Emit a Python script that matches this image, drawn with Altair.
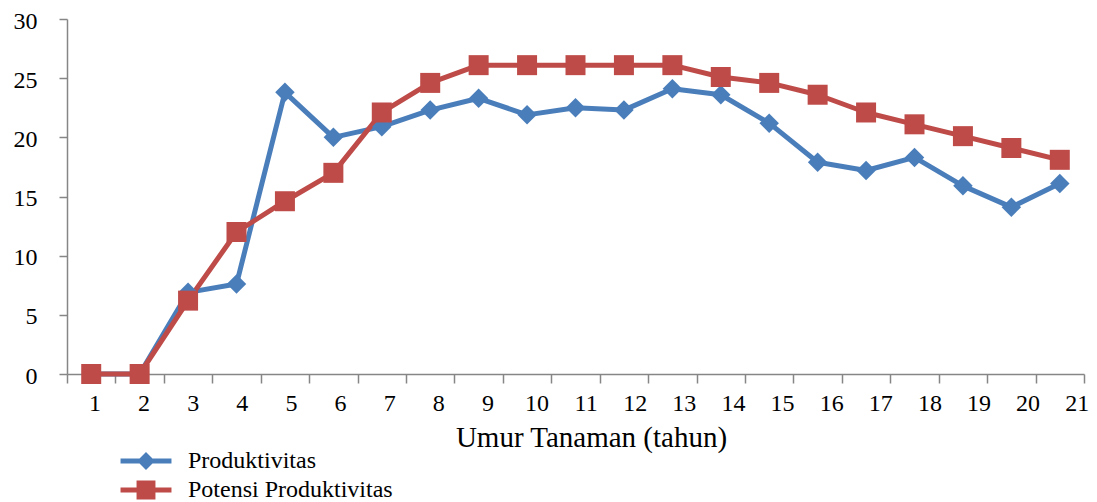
import altair as alt
import pandas as pd

# ---- data ----
years = list(range(1, 22))
year_labels = [str(y) for y in years]
produktivitas = [0, 0, 6.9, 7.6, 23.8, 20.0, 20.9, 22.3, 23.3, 21.9, 22.5, 22.3,
                 24.1, 23.6, 21.2, 17.9, 17.2, 18.3, 15.9, 14.1, 16.1]
potensi = [0, 0, 6.2, 12.0, 14.6, 17.0, 22.1, 24.6, 26.1, 26.1, 26.1, 26.1,
           26.1, 25.1, 24.6, 23.6, 22.1, 21.1, 20.1, 19.1, 18.1]
series_names = ["Produktivitas", "Potensi Produktivitas"]
series_colors = ["#4A7EBB", "#BE4B48"]
y_ticks = [0, 5, 10, 15, 20, 25, 30]
x_title = "Umur Tanaman (tahun)"

FONT = "Liberation Serif"
AXIS_COLOR = "#868686"

rows = []
for s, vals in zip(series_names, [produktivitas, potensi]):
    for t, v in zip(years, vals):
        rows.append({"tahun": t, "series": s, "nilai": v})
df = pd.DataFrame(rows)

# category labels (Excel-style drift across the axis)
n = len(year_labels)
lab_df = pd.DataFrame({
    "label": year_labels,
    "pos": [1.078 + i * (21.36 - 1.078) / (n - 1) for i in range(n)],
})

x_scale = alt.Scale(domain=[0.5, 21.5], nice=False, zero=False)
y_scale = alt.Scale(domain=[0, 30], nice=False)
color_scale = alt.Scale(domain=series_names, range=series_colors)

# legend symbols: a line segment with the series marker (unit r = 9 px)
diamond_line = ("M-2.83,-0.28H-0.72L0,-1L0.72,-0.28H2.83V0.28H0.72L0,1"
                "L-0.72,0.28H-2.83Z")
square_line = ("M-2.83,-0.28H-1.05V-1.05H1.05V-0.28H2.83V0.28H1.05V1.05H-1.05"
               "V0.28H-2.83Z")

x_axis = alt.Axis(
    values=[i + 0.5 for i in range(0, 22)], labels=False, grid=False,
    tickSize=9, tickColor=AXIS_COLOR, domainColor=AXIS_COLOR,
    tickWidth=1.5, domainWidth=1.5,
    title=x_title, titleFont=FONT, titleFontSize=29, titleFontWeight="normal",
    titleColor="black", titleX=524, titleY=72, titleAlign="center",
    titleBaseline="alphabetic",
)
y_axis = alt.Axis(
    values=y_ticks, grid=False, tickSize=8, tickColor=AXIS_COLOR,
    domainColor=AXIS_COLOR, tickWidth=1.5, domainWidth=1.5,
    labelFont=FONT, labelFontSize=24, labelColor="black", labelPadding=22,
    labelOffset=2, title=None,
)

legend_opts = dict(
    title=None, orient="none", legendX=67, legendY=430,
    symbolSize=324, symbolOpacity=1, symbolStrokeWidth=0,
    labelFont=FONT, labelFontSize=24, labelColor="black", labelLimit=400,
    labelOffset=30, rowPadding=5, padding=0, direction="vertical",
)

base = alt.Chart(df)

lines = base.mark_line(strokeWidth=5, strokeJoin="round").encode(
    x=alt.X("tahun:Q", scale=x_scale, axis=x_axis),
    y=alt.Y("nilai:Q", scale=y_scale, axis=y_axis),
    color=alt.Color("series:N", scale=color_scale, legend=None),
    detail="series:N",
)

points = base.mark_point(filled=True, opacity=1).encode(
    x=alt.X("tahun:Q", scale=x_scale, axis=x_axis),
    y=alt.Y("nilai:Q", scale=y_scale, axis=y_axis),
    color=alt.Color("series:N", scale=color_scale, legend=None),
    shape=alt.Shape("series:N", scale=alt.Scale(domain=series_names,
                                                range=["diamond", "square"]),
                    legend=None),
    size=alt.Size("series:N", scale=alt.Scale(domain=series_names,
                                              range=[380, 400]),
                  legend=None),
)

legend_layer = base.mark_point(filled=True, opacity=0).encode(
    x=alt.X("tahun:Q", scale=x_scale, axis=x_axis),
    y=alt.Y("nilai:Q", scale=y_scale, axis=y_axis),
    color=alt.Color("series:N", scale=color_scale,
                    legend=alt.Legend(**legend_opts)),
    shape=alt.Shape("series:N", scale=alt.Scale(domain=series_names,
                                                range=[diamond_line, square_line]),
                    legend=alt.Legend(**legend_opts)),
)

labels = alt.Chart(lab_df).mark_text(
    font=FONT, fontSize=24, baseline="alphabetic", align="center", color="black"
).encode(
    x=alt.X("pos:Q", scale=x_scale, axis=x_axis),
    y=alt.value(392),
    text="label:N",
)

chart = alt.layer(lines, points, legend_layer, labels).resolve_scale(
    color="independent", shape="independent"
).properties(
    width=1017, height=355,
    autosize=alt.AutoSizeParams(type="none"),
    padding={"left": 59, "top": 11, "right": 5, "bottom": 128},
).configure_view(stroke=None)

chart.save("out.html", embed_options={"renderer": "svg", "actions": False})
